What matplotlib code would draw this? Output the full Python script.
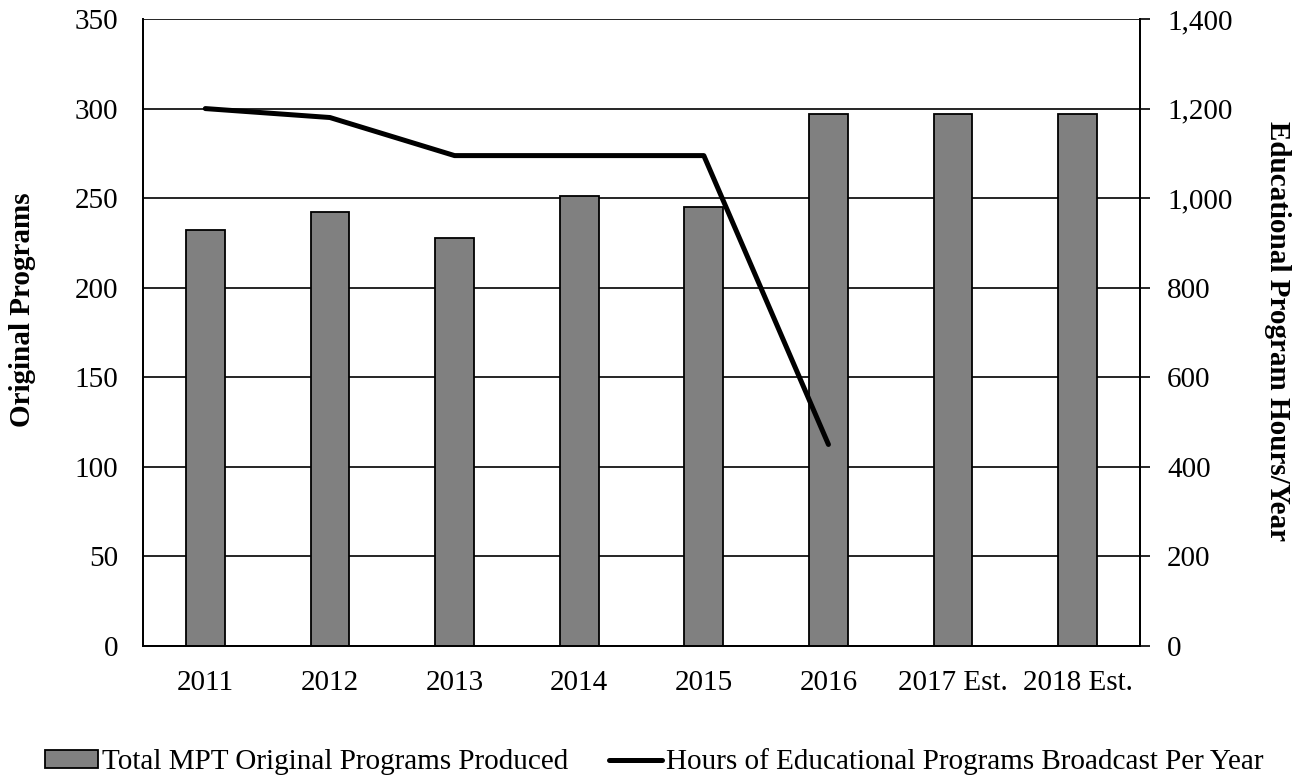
import matplotlib
matplotlib.use('Agg')
import matplotlib.pyplot as plt
from matplotlib.ticker import FuncFormatter

plt.rcParams['font.family'] = ['Liberation Serif', 'DejaVu Serif']

years = ['2011', '2012', '2013', '2014', '2015', '2016', '2017 Est.', '2018 Est.']
programs = [232, 242, 228, 251, 245, 297, 297, 297]
hours_years = ['2011', '2012', '2013', '2014', '2015', '2016']
hours = [1200, 1180, 1095, 1095, 1095, 450]

W, H = 1309, 778
fig = plt.figure(figsize=(W / 100, H / 100), dpi=100)
ax = fig.add_axes([143 / W, 1 - 646 / H, (1140 - 143) / W, (646 - 19) / H])
ax2 = ax.twinx()

x = list(range(len(years)))
bars = ax.bar(x, programs, width=0.31, color='#808080', edgecolor='black',
              linewidth=1.3, zorder=3)
ax.set_ylim(0, 350)
ax.set_yticks(range(0, 351, 50))
ax.yaxis.grid(True, color='black', linewidth=1.2, zorder=0)
ax.set_axisbelow(True)
ax.set_xlim(-0.5, len(years) - 0.5)
ax.set_xticks(x)
ax.set_xticklabels(years)
ax.tick_params(axis='x', length=0, labelsize=21, pad=17)
ax.tick_params(axis='y', length=0, labelsize=21, pad=18)

hx = [years.index(y) for y in hours_years]
line, = ax2.plot(hx, hours, color='black', linewidth=3.6, zorder=4,
                 solid_capstyle='round')
ax2.set_ylim(0, 1400)
ax2.set_yticks(range(0, 1401, 200))
ax2.yaxis.set_major_formatter(FuncFormatter(lambda v, p: f'{int(v):,}'))
ax2.tick_params(axis='y', length=7.5, width=1.2, labelsize=21, pad=12)

for a in (ax, ax2):
    a.spines['top'].set_visible(False)
    for s in ('left', 'right', 'bottom'):
        a.spines[s].set_linewidth(1.3)
        a.spines[s].set_color('black')

fig.text(23 / W, 1 - 310 / H, 'Original Programs', rotation=90, fontsize=21,
         fontweight='bold', ha='center', va='center')
fig.text(1278 / W, 1 - 331 / H, 'Educational Program Hours/Year', rotation=270,
         fontsize=21, fontweight='bold', ha='center', va='center')

fig.legend([bars, line],
           ['Total MPT Original Programs Produced', 'Hours of Educational Programs Broadcast Per Year'],
           loc='center', bbox_to_anchor=(0.5, 1 - 762 / H), ncol=2, frameon=False,
           fontsize=21, handlelength=1.8, handleheight=0.55, handletextpad=0.15,
           columnspacing=1.4, borderaxespad=0, borderpad=0)

fig.savefig('out.png', dpi=100)
